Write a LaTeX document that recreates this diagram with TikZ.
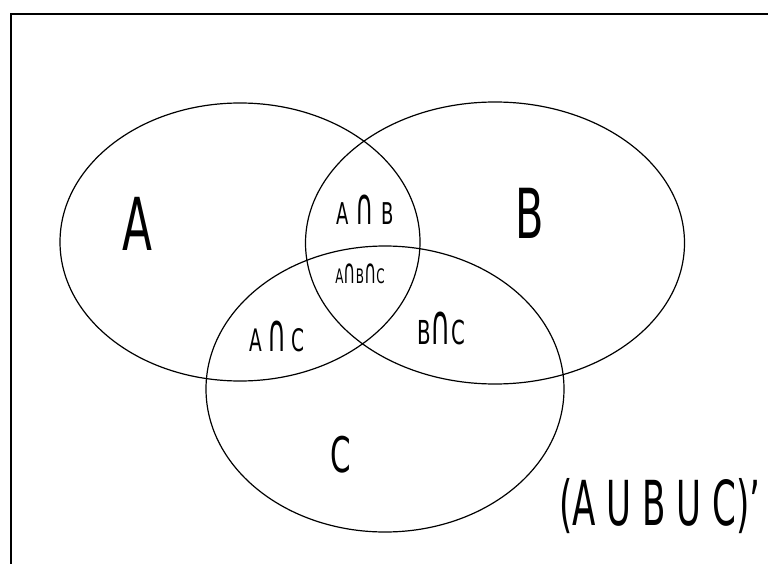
\documentclass[tikz,border=0pt]{standalone}
\usepackage{fontspec}
\setmainfont{DejaVu Sans}
\tikzset{
  venn/.style={draw=black, line width=1.2pt},
  frameline/.style={draw=black, line width=2pt},
  lbl/.style={inner sep=0pt, anchor=center},
}
\newcommand{\cond}[3]{\scalebox{#1}[1]{\fontsize{#2}{#2}\selectfont #3}}
\newcommand{\capint}{\scalebox{1.4}[1.7]{∩}}
\begin{document}
\begin{tikzpicture}[x=1pt,y=-1pt]
\useasboundingbox (0,0) rectangle (768,564);
\fill[white] (0,0) rectangle (768,564);
% frame
\draw[frameline] (11,564) -- (11,14) -- (768,14);
% ellipses
\draw[venn] (240,242) ellipse [x radius=180, y radius=139];
\draw[venn] (495,243) ellipse [x radius=189.5, y radius=141];
\draw[venn] (385,389) ellipse [x radius=179, y radius=143];
% labels
\node[lbl] (la) at (137,224) {\cond{0.6}{73pt}{A}};
\node[lbl] (lb) at (530,213) {\cond{0.6}{69pt}{B}};
\node[lbl] (lc) at (341,455) {\cond{0.6}{49pt}{C}};
\node[lbl] (lab) at (365,210) {\cond{0.6}{30pt}{A\hspace{0.4em}\capint\hspace{0.4em}B}};
\node[lbl] (labc) at (360,274) {\cond{0.6}{20pt}{A\capint B\capint C}};
\node[lbl] (lac) at (277,336) {\cond{0.6}{31pt}{A\hspace{0.25em}\capint\hspace{0.25em}C}};
\node[lbl] (lbc) at (441,328) {\cond{0.6}{33pt}{B\capint C}};
\node[lbl] (lu) at (660,506) {\cond{0.55}{62pt}{(A U B U C)\symbol{"27}}};
\end{tikzpicture}
\end{document}
